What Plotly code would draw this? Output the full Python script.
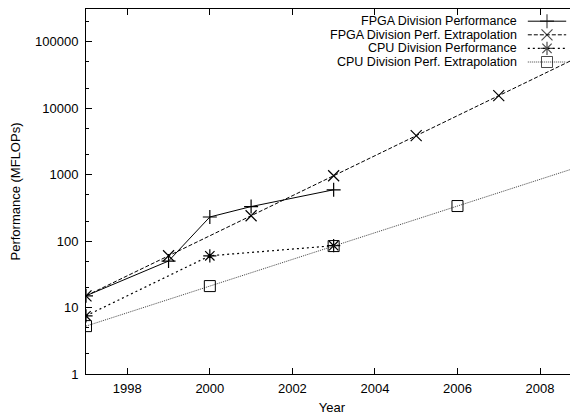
import plotly.graph_objects as go

# ---- data ----
fpga_perf_years = [1997, 1999, 2000, 2001, 2003]
fpga_perf_vals = [15, 50, 230, 330, 590]

fpga_extra_years = [1997, 1999, 2001, 2003, 2005, 2007, 2009]
fpga_extra_vals = [15, 60, 240, 960, 3840, 15360, 61440]

cpu_perf_years = [1997, 2000, 2003]
cpu_perf_vals = [7.5, 60, 85]

cpu_extra_years = [1997, 2000, 2003, 2006, 2009]
cpu_extra_vals = [5.25, 21, 84, 336, 1344]

series_names = [
    "FPGA Division Performance",
    "FPGA Division Perf. Extrapolation",
    "CPU Division Performance",
    "CPU Division Perf. Extrapolation",
]

x_tick_vals = [1998, 2000, 2002, 2004, 2006, 2008]
y_tick_vals = [1, 10, 100, 1000, 10000, 100000]
y_tick_text = ["1", "10", "100", "1000", "10000", "100000"]
y_minor_vals = [m * 10 ** e for e in range(0, 6) for m in (2, 5)]

# ---- styles ----
FONT = "Liberation Sans, Arial, sans-serif"
TXT = dict(family=FONT, size=13, color="black")
LEG_TXT = dict(family=FONT, size=12.5, color="black")
styles = [
    dict(line=dict(color="black", width=1, dash="solid"),
         marker=dict(symbol="cross-thin", size=10, line=dict(color="black", width=1.2))),
    dict(line=dict(color="black", width=1, dash="4px,2px"),
         marker=dict(symbol="x-thin", size=11, line=dict(color="black", width=1.2))),
    dict(line=dict(color="black", width=1.2, dash="2px,3px"),
         marker=dict(symbol="asterisk", size=11, line=dict(color="black", width=1.2))),
    dict(line=dict(color="#444444", width=1, dash="1px,1px"),
         marker=dict(symbol="square-open", size=11, color="black", line=dict(color="black", width=1))),
]

data = [
    (fpga_perf_years, fpga_perf_vals),
    (fpga_extra_years, fpga_extra_vals),
    (cpu_perf_years, cpu_perf_vals),
    (cpu_extra_years, cpu_extra_vals),
]

fig = go.Figure()
for (xs, ys), st, name in zip(data, styles, series_names):
    fig.add_trace(go.Scatter(x=xs, y=ys, mode="lines+markers", name=name,
                             line=st["line"], marker=st["marker"], showlegend=False))

# ---- gnuplot-style legend (text right-aligned, sample on the right) ----
leg_x0, leg_xm, leg_x1 = 0.898, 0.937, 0.976
leg_text_x = 0.878
leg_rows = [0.9666, 0.9293, 0.8921, 0.8548]
for st, name, ry in zip(styles, series_names, leg_rows):
    mk = dict(st["marker"])
    sz = mk["size"]
    mk["size"] = [0, sz, 0]
    fig.add_trace(go.Scatter(x=[leg_x0, leg_xm, leg_x1], y=[ry, ry, ry],
                             mode="lines+markers", line=st["line"], marker=mk,
                             xaxis="x2", yaxis="y2", showlegend=False,
                             hoverinfo="skip", cliponaxis=False))
    fig.add_annotation(x=leg_text_x, y=ry, xref="paper", yref="paper",
                       text=name, showarrow=False, xanchor="right", yanchor="middle",
                       borderpad=0, font=LEG_TXT)

# page body has an 8px margin: figure is sized so it ends at the window edge
fig.update_layout(
    width=570, height=410,
    margin=dict(l=78, r=0, t=1, b=44, autoexpand=False),
    paper_bgcolor="white", plot_bgcolor="white",
    font=TXT,
    showlegend=False,
    xaxis=dict(
        range=[1997, 2008.92], tickvals=x_tick_vals, ticks="inside", ticklen=6,
        tickcolor="black", showline=True, linecolor="black", linewidth=1,
        mirror="ticks", showgrid=False, zeroline=False, automargin=False,
        tickfont=TXT, ticklabelstandoff=2,
        title=dict(text="Year", standoff=8, font=TXT),
    ),
    yaxis=dict(
        type="log", range=[0, 5.49], tickvals=y_tick_vals, ticktext=y_tick_text,
        ticks="inside", ticklen=6, tickcolor="black", showline=True,
        linecolor="black", linewidth=1, showgrid=False, zeroline=False,
        automargin=False, tickfont=TXT, ticklabelstandoff=4,
        minor=dict(tickvals=y_minor_vals, ticks="inside", ticklen=3, tickcolor="black"),
        title=dict(text="Performance (MFLOPs)", standoff=20, font=TXT),
    ),
    xaxis2=dict(range=[0, 1], overlaying="x", visible=False, fixedrange=True),
    yaxis2=dict(range=[0, 1], overlaying="y", visible=False, fixedrange=True),
)

fig.write_html("out.html")
